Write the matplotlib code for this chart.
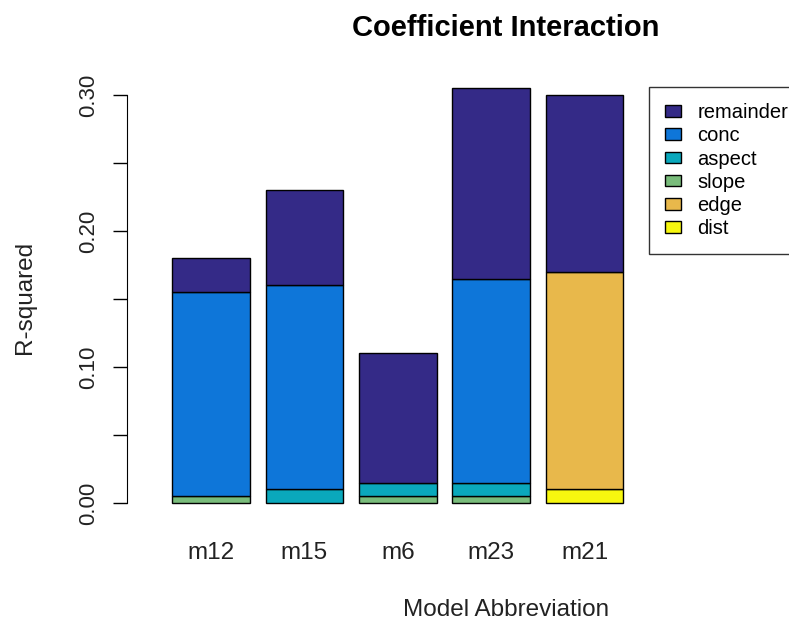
import numpy as np
import matplotlib
matplotlib.use("Agg")
from matplotlib import pyplot as plt
from matplotlib.patches import Patch

plt.rcParams['font.family'] = ['Liberation Sans', 'DejaVu Sans']

models = ['m12', 'm15', 'm6', 'm23', 'm21']
# stacked from bottom to top
dist = [0.0, 0.0, 0.0, 0.0, 0.01]
edge = [0.0, 0.0, 0.0, 0.0, 0.16]
slope = [0.005, 0.0, 0.005, 0.005, 0.0]
aspect = [0.0, 0.01, 0.01, 0.01, 0.0]
conc = [0.15, 0.15, 0.0, 0.15, 0.0]
remainder = [0.025, 0.07, 0.095, 0.14, 0.13]

parts = [('dist', dist, '#f7f70f'),
         ('edge', edge, '#e8b84b'),
         ('slope', slope, '#79bc7b'),
         ('aspect', aspect, '#0aa8bc'),
         ('conc', conc, '#0e76d9'),
         ('remainder', remainder, '#342a87')]

fig = plt.figure(figsize=(7.89, 6.24), dpi=100)
ax = fig.add_axes([127/789, 1-520/624, (639-127)/789, (520-72)/624])

x = 0.7 + 1.2*np.arange(len(models))
bottom = np.zeros(len(models))
for name, vals, col in parts:
    vals = np.array(vals)
    mask = vals > 0
    ax.bar(x[mask], vals[mask], width=1.0, bottom=bottom[mask], color=col,
           edgecolor='black', linewidth=1.0)
    bottom += vals

ax.set_xlim(-0.38, 6.2)
ax.set_ylim(-0.0125, 0.3169)
for s in ['top', 'right', 'bottom']:
    ax.spines[s].set_visible(False)
ax.spines['left'].set_bounds(0, 0.30)
ax.set_yticks(np.arange(0, 0.301, 0.05))
ax.set_yticklabels(['0.00', '', '0.10', '', '0.20', '', '0.30'],
                   rotation=90, va='center', fontsize=16, color='#222222')
ax.tick_params(axis='y', length=10, width=1, pad=10)
ax.set_xticks(x)
ax.set_xticklabels(models, fontsize=17.5, color='#222222')
ax.tick_params(axis='x', length=0, pad=16)

fig.text(506/789, 1-28/624, 'Coefficient Interaction', ha='center', va='center',
         fontsize=21, fontweight='bold')
fig.text(506/789, 1-610/624, 'Model Abbreviation', ha='center', va='center',
         fontsize=17.5, color='#222222')
fig.text(25/789, 1-297/624, 'R-squared', ha='center', va='center',
         rotation=90, fontsize=17.5, color='#222222')

handles = [Patch(facecolor=c, edgecolor='black', label=n) for n, v, c in parts[::-1]]
leg = fig.legend(handles=handles, loc='upper left',
                 bbox_to_anchor=(649/789, 1-87/624), fontsize=14.5,
                 frameon=True, fancybox=False, edgecolor='black',
                 handlelength=0.8, handleheight=0.5, handletextpad=0.8,
                 labelspacing=0.21, borderpad=0.8, borderaxespad=0)
leg.get_frame().set_linewidth(1.0)

fig.savefig('out.png', dpi=100)
